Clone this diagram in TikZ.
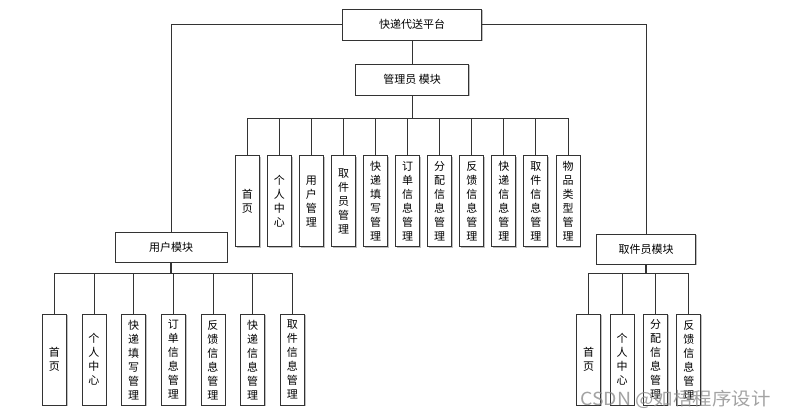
\documentclass[tikz,border=0pt]{standalone}
\usepackage{fontspec}
\setmainfont{Noto Sans CJK SC}
\usetikzlibrary{shadows}
\begin{document}
\begin{tikzpicture}[x=1pt,y=-1pt,
  box/.style={draw=black!80, line width=0.9pt, fill=white, inner sep=0pt,
    font=\fontsize{11}{14}\selectfont,
    drop shadow={shadow xshift=1.2pt, shadow yshift=-1.2pt, fill=black!25, opacity=1}},
  hbox/.style={box, minimum height=31pt},
  vbox/.style={box, minimum width=24pt, minimum height=91pt, text width=12pt, align=center},
  link/.style={draw=black!80, line width=0.9pt}]
\useasboundingbox (0,0) rectangle (788,419);

% level 0 and 1
\node[hbox, minimum width=139pt] (top) at (412.2,24.7) {快递代送平台};
\node[hbox, minimum width=113pt] (mgr) at (412.2,79.7) {管理员 模块};
\node[hbox, minimum width=112pt, minimum height=30pt] (user) at (171,247) {用户模块};
\node[hbox, minimum width=98.6pt, minimum height=30pt] (pick) at (646,249.3) {取件员模块};

\draw[link] (top.south) -- (mgr.north);
\draw[link] (top.west) -| (user.north);
\draw[link] (top.east) -| (pick.north);

% manager children
\coordinate (mbus) at (412.2,118);
\draw[link, line width=1.4pt] (mgr.south) -- (mbus);
\foreach \t [count=\i from 0] in {首\\页, 个\\人\\中\\心, 用\\户\\管\\理, 取\\件\\员\\管\\理,
  快\\递\\填\\写\\管\\理, 订\\单\\信\\息\\管\\理, 分\\配\\信\\息\\管\\理, 反\\馈\\信\\息\\管\\理,
  快\\递\\信\\息\\管\\理, 取\\件\\信\\息\\管\\理, 物\\品\\类\\型\\管\\理}{
  \node[vbox] (m\i) at (247.3+32.07*\i,201.2) {\t};
  \draw[link] (mbus) -| (m\i.north);
}

% user children
\coordinate (ubus) at (171,273.3);
\draw[link, line width=1.4pt] (user.south) -- (ubus);
\foreach \t [count=\i from 0] in {首\\页, 个\\人\\中\\心, 快\\递\\填\\写\\管\\理, 订\\单\\信\\息\\管\\理,
  反\\馈\\信\\息\\管\\理, 快\\递\\信\\息\\管\\理, 取\\件\\信\\息\\管\\理}{
  \node[vbox] (u\i) at (54.3+39.67*\i,359.7) {\t};
  \draw[link] (ubus) -| (u\i.north);
}

% pickup children
\coordinate (pbus) at (646,273.3);
\draw[link, line width=1.4pt] (pick.south) -- (pbus);
\foreach \t [count=\i from 0] in {首\\页, 个\\人\\中\\心, 分\\配\\信\\息\\管\\理, 反\\馈\\信\\息\\管\\理}{
  \node[vbox] (p\i) at (588.7+33.4*\i,359.7) {\t};
  \draw[link] (pbus) -| (p\i.north);
}

% watermark
\node[anchor=west, inner sep=0pt, text=black!45, text opacity=0.8,
  font=\fontsize{18}{18}\selectfont] (wm) at (580,399.5) {\scalebox{1.08}[1]{CSDN @如梧程序设计}};
\end{tikzpicture}
\end{document}
